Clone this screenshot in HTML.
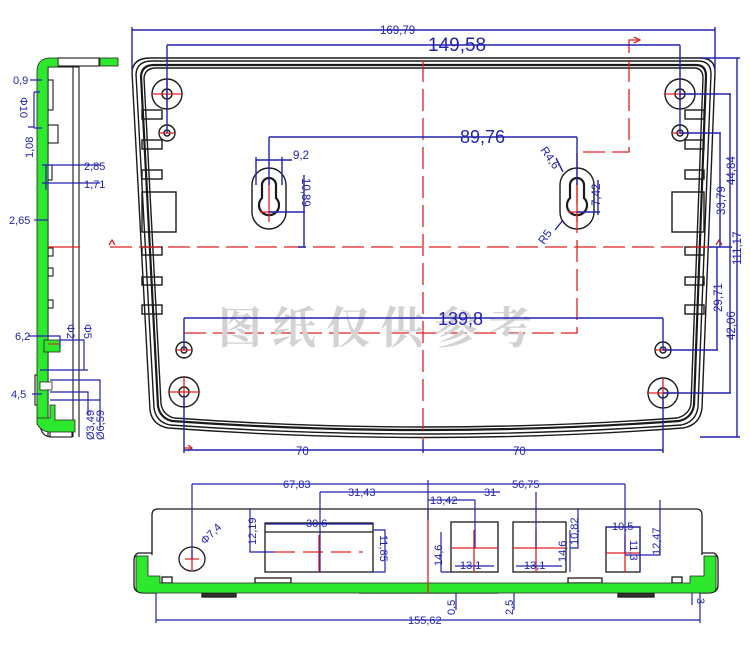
<!DOCTYPE html>
<html><head><meta charset="utf-8"><style>
html,body{margin:0;padding:0;background:#fff;}
svg{display:block;}
text{font-family:"Liberation Sans","DejaVu Sans",sans-serif;fill:#2222b0;}
</style></head><body>
<svg width="750" height="646" viewBox="0 0 750 646" xmlns="http://www.w3.org/2000/svg">
<g fill="none" stroke="#1a1a1a" stroke-width="1.4">
<path d="M150,58 L700,58 Q715,58 715,72 L702,408 Q700,425 683,428 Q425,447 168,428 Q152,425 150,410 L132,72 Q133,58 150,58 Z"/>
<path d="M152,61 L698,61 Q711,61 711,74 L698,407 Q696,422 681,425 Q425,443 170,425 Q156,422 154,408 L136,74 Q137,61 152,61 Z"/>
<path d="M154,65 L696,65 Q706,65 706,76 L694,405 Q692,418 679,421 Q425,439 172,421 Q160,418 158,406 L141,76 Q142,65 154,65 Z" stroke-width="2.2"/>
<path d="M156,68 L694,68 Q703,68 703,78 L691,404 Q689,415 677,418 Q425,436 174,418 Q163,415 161,404 L144,78 Q145,68 156,68 Z"/>
<rect x="142" y="110" width="20" height="9"/><rect x="142" y="140" width="20" height="9"/><rect x="142" y="170" width="20" height="9"/>
<rect x="142" y="192" width="34" height="40"/>
<rect x="142" y="247" width="20" height="8"/><rect x="142" y="277" width="20" height="8"/><rect x="142" y="305" width="20" height="9"/>
<rect x="685" y="110" width="19" height="9"/><rect x="685" y="140" width="19" height="9"/><rect x="685" y="170" width="19" height="9"/>
<rect x="672" y="192" width="32" height="40"/>
<rect x="685" y="247" width="19" height="8"/><rect x="685" y="277" width="19" height="8"/><rect x="685" y="305" width="19" height="9"/>
<circle cx="167" cy="94" r="15"/><circle cx="167" cy="94" r="5"/>
<circle cx="167" cy="133" r="8"/><circle cx="167" cy="133" r="3"/>
<circle cx="184" cy="350" r="8"/><circle cx="184" cy="350" r="3"/>
<circle cx="184" cy="392" r="15"/><circle cx="184" cy="392" r="5"/>
<circle cx="680" cy="94" r="15"/><circle cx="680" cy="94" r="5"/>
<circle cx="680" cy="133" r="8"/><circle cx="680" cy="133" r="3"/>
<circle cx="663" cy="350" r="8"/><circle cx="663" cy="350" r="3"/>
<circle cx="663" cy="393" r="15"/><circle cx="663" cy="393" r="5"/>
<path d="M252,185 A17,17 0 0 1 286,185 L286,212 A17,17 0 0 1 252,212 Z"/>
<path d="M262,185 A7,7 0 0 1 276,185 L276,198 A10,10 0 1 1 262,198 Z" stroke-width="2.2"/>
<path d="M560,185 A17,17 0 0 1 594,185 L594,212 A17,17 0 0 1 560,212 Z"/>
<path d="M570,185 A7,7 0 0 1 584,185 L584,198 A10,10 0 1 1 570,198 Z" stroke-width="2.2"/>
</g>
<g stroke="#e02020" stroke-width="1.3" fill="none">
<path d="M110,247 H720" stroke-dasharray="22,7"/>
<path d="M423,60 V440" stroke-dasharray="22,7"/>
<path d="M184,333 H577 V152 H629 V40 H638" stroke-dasharray="22,7"/>
<path d="M152,94 H182 M167,79 V109 M169,392 H199 M184,377 V407 M665,94 H695 M680,79 V109 M648,393 H678 M663,378 V408 M160,133 H174 M177,350 H191 M673,133 H687 M656,350 H670"/>
<path d="M269,178 V222 M260,212 H278 M577,178 V222 M568,212 H586"/>
<path d="M634,37 L640,40 L634,43 M115,245 L112,240 L109,245 M716,245 L719,240 L722,245"/>
<path d="M184,448 H191 M188,445 L192,448 L188,451"/>
</g>
<text x="218" y="343" font-size="44" font-weight="bold" style="fill:#d2d2d2;font-family:'Noto Serif CJK SC','Noto Sans CJK SC',serif" letter-spacing="10">图纸仅供参考</text>
<g stroke="#2222b0" stroke-width="1.4" fill="none">
<path d="M132,30 H715 M132,27 V70 M715,27 V70"/>
<path d="M167,45 H680 M167,45 V133 M680,45 V133"/>
<path d="M269,137 H577 M269,137 V185 M577,137 V185"/>
<path d="M184,318 H663 M184,318 V350 M663,318 V350"/>
<path d="M184,450 H663 M184,395 V453 M663,395 V453 M423,440 V453"/>
<path d="M700,58 H740 M737,58 V437 M700,437 H740"/>
<path d="M680,94 H731 M730,94 V247"/>
<path d="M680,133 H721 M720,133 V247"/>
<path d="M663,350 H718 M717,247 V350"/>
<path d="M663,393 H731 M730,247 V393"/>
<path d="M709,247 H732"/>
<path d="M256,157 V185 M282,157 V185 M256,160 H292"/>
<path d="M269,212 H305 M304,175 V247 M298,247 H306"/>
<path d="M577,212 H600 M598,180 V215"/>
<path d="M556,158 L563,172 M555,230 L563,220"/>
</g>
<g font-size="11.5">
<text x="380" y="34">169,79</text>
<text x="428" y="51" font-size="19">149,58</text>
<text x="460" y="143" font-size="18">89,76</text>
<text x="438" y="325" font-size="18">139,8</text>
<text x="293" y="159">9,2</text>
<text x="302" y="178" transform="rotate(90 302 178)">10,89</text>
<text x="600" y="206" transform="rotate(-90 600 206)">7,42</text>
<text x="540" y="150" transform="rotate(55 540 150)">R4,6</text>
<text x="544" y="245" transform="rotate(-55 544 245)">R5</text>
<text x="296" y="455">70</text>
<text x="513" y="455">70</text>
<text x="741" y="265" transform="rotate(-90 741 265)">111,17</text>
<text x="735" y="185" transform="rotate(-90 735 185)">44,84</text>
<text x="725" y="215" transform="rotate(-90 725 215)">33,79</text>
<text x="722" y="312" transform="rotate(-90 722 312)">29,71</text>
<text x="735" y="340" transform="rotate(-90 735 340)">42,06</text>
</g>

<g stroke="#1a1a1a" stroke-width="1.1" fill="none">
<path d="M48,67 V437 M73,66 V437 M79,66 V437 M48,67 H79"/>
<rect x="58" y="58" width="41" height="8"/>
<rect x="48" y="80" width="5" height="30"/><rect x="48" y="125" width="10" height="18"/>
<rect x="46" y="165" width="6" height="15"/><rect x="38" y="185" width="8" height="40"/>
<rect x="48" y="248" width="5" height="8"/><rect x="48" y="268" width="5" height="8"/><rect x="48" y="300" width="5" height="8"/>
<rect x="35" y="375" width="4" height="30"/>
<path d="M40,422 Q40,437 52,437 H72"/>
<rect x="50" y="422" width="22" height="15"/>
</g>
<path d="M37,72 Q37,58 50,58 H58 V67 H48 V420 H37 Z" fill="#2ee82e" stroke="#222" stroke-width="0.8"/>
<rect x="100" y="58" width="18" height="8" fill="#2ee82e" stroke="#222" stroke-width="0.8"/>
<path d="M37,418 H50 V405 H55 V420 H75 V432 H50 Q42,432 37,424 Z" fill="#2ee82e" stroke="#222" stroke-width="0.8"/>
<path d="M44,340 H60 V352 H44 Z" fill="#2ee82e" stroke="#222" stroke-width="0.8"/>
<rect x="40" y="382" width="12" height="8" fill="#fff" stroke="#222" stroke-width="0.8"/>
<path d="M48,247 H80" stroke="#e02020" stroke-width="1.2"/>
<path d="M48,344 H60" stroke="#e02020" stroke-width="1"/>
<g stroke="#2222b0" stroke-width="1.2" fill="none">
<path d="M30,80 H42 M34,92 H40 M34,92 V128 M34,128 H42 M28,127 H34"/>
<path d="M42,165 H100 M42,183 H100 M46,165 V190"/>
<path d="M34,220 H48"/>
<path d="M28,336 H60 V348 M60,340 H84 V370 M40,370 H88"/>
<path d="M32,394 H42 M50,380 H100 V428 M50,392 H88 V415 M50,400 H100"/>
</g>
<g font-size="11">
<text x="13" y="84">0,9</text>
<text x="20" y="97" transform="rotate(90 20 97)">Φ10</text>
<text x="33" y="158" transform="rotate(-90 33 158)">1,08</text>
<text x="84" y="170">2,85</text>
<text x="84" y="188">1,71</text>
<text x="9" y="224">2,65</text>
<text x="15" y="340">6,2</text>
<text x="67" y="324" transform="rotate(90 67 324)">Φ2</text>
<text x="84" y="324" transform="rotate(90 84 324)">Φ5</text>
<text x="11" y="398">4,5</text>
<text x="94" y="440" transform="rotate(-90 94 440)">Ø3,49</text>
<text x="104" y="440" transform="rotate(-90 104 440)">Ø6,59</text>
</g>

<g stroke="#1a1a1a" stroke-width="1.3" fill="none">
<path d="M152,555 V515 Q152,509 158,509 H696 Q702,509 702,515 V555"/>
<path d="M152,553 H138 Q134,555 134,560 V585 Q134,593 144,593 H156 M702,553 H714 Q718,555 718,560 V585 Q718,593 708,593 H700"/>
<path d="M140,556 V582 M712,556 V582"/>
<ellipse cx="192" cy="559" rx="13" ry="12"/>
<rect x="265" y="523" width="108" height="49"/><path d="M265,532 H373"/>
<rect x="451" y="522" width="47" height="50"/>
<rect x="513" y="522" width="53" height="50"/>
<rect x="606" y="527" width="34" height="45"/>
<rect x="255" y="578" width="36" height="5"/><rect x="568" y="578" width="34" height="5"/>
<rect x="162" y="577" width="10" height="6"/><rect x="672" y="577" width="10" height="6"/>
<rect x="202" y="593" width="34" height="4" fill="#333"/><rect x="618" y="593" width="36" height="4" fill="#333"/>
<path d="M359,593 H498"/>
</g>
<path d="M136,556 H148 V576 H160 V583 H690 V576 H704 V556 H716 V588 Q716,593 708,593 H144 Q136,593 136,588 Z" fill="#2ee82e" stroke="#222" stroke-width="0.8"/>
<g stroke="#e02020" stroke-width="1.3" fill="none">
<path d="M428,509 V593"/>
<path d="M185,559 H199 M192,550 V570"/>
<path d="M275,552 H363" stroke-dasharray="20,8"/><path d="M319,535 V572"/>
<path d="M451,548 H498 M474,530 V572 M513,548 H566 M536,530 V572 M606,553 H640 M625,535 V572"/>
</g>
<g stroke="#2222b0" stroke-width="1.2" fill="none">
<path d="M192,484 H625 M192,484 V559 M625,484 V553 M428,480 V520"/>
<path d="M320,492 H500 M320,492 V572 M536,492 V548"/>
<path d="M428,500 H475 M475,500 V548"/>
<path d="M250,509 V552 H275"/>
<path d="M265,524 H373 M373,530 H385 V572 H373"/>
<path d="M441,532 V572 M441,572 H451 M455,566 H494"/>
<path d="M516,566 H562 M570,530 V572"/>
<path d="M578,509 V548 H570"/>
<path d="M606,527 H640 M640,530 V572"/>
<path d="M660,500 V555 H625"/>
<path d="M156,620 H700 M156,593 V623 M700,593 V623"/>
<path d="M456,593 V610 M514,593 V610 M692,593 V605"/>
</g>
<g font-size="11">
<text x="283" y="488">67,83</text>
<text x="348" y="496">31,43</text>
<text x="512" y="488">56,75</text>
<text x="484" y="496">31</text>
<text x="430" y="504">13,42</text>
<text x="306" y="527">30,6</text>
<text x="256" y="545" transform="rotate(-90 256 545)">12,19</text>
<text x="380" y="535" transform="rotate(90 380 535)">11,85</text>
<text x="205" y="545" transform="rotate(-45 205 545)">Φ7,4</text>
<text x="442" y="566" transform="rotate(-90 442 566)">14,6</text>
<text x="460" y="569">13,1</text>
<text x="524" y="569">13,1</text>
<text x="566" y="562" transform="rotate(-90 566 562)">14,6</text>
<text x="578" y="545" transform="rotate(-90 578 545)">10,82</text>
<text x="612" y="530">10,5</text>
<text x="630" y="540" transform="rotate(90 630 540)">11,3</text>
<text x="660" y="555" transform="rotate(-90 660 555)">12,47</text>
<text x="455" y="615" transform="rotate(-90 455 615)">0,5</text>
<text x="513" y="615" transform="rotate(-90 513 615)">2,5</text>
<text x="697" y="598" transform="rotate(90 697 598)">3</text>
<text x="408" y="624">155,62</text>
</g>
</svg>
</body></html>
